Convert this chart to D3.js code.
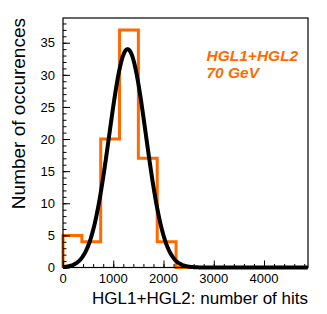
<!DOCTYPE html>
<html><head><meta charset="utf-8">
<script src="https://cdn.jsdelivr.net/npm/d3@7"></script>
<style>body{margin:0;background:#fff}svg{display:block}text{font-family:"Liberation Sans",Arial,sans-serif}</style>
</head><body>
<script>
// Histogram bins (lower edges) and counts
const binEdges = [0,375,750,1125,1500,1875,2250,2625,3000,3375,3750,4125,4500,4875];
const counts   = [5,4,20,37,17,4,0,0,0,0,0,0,0];
// Gaussian fit: [amplitude, mean, sigma]
const fitParams = [34, 1285, 365];
const xTicks = [0,1000,2000,3000,4000];
const yTicks = [0,5,10,15,20,25,30,35];
const xTitle = "HGL1+HGL2: number of hits";
const yTitle = "Number of occurences";
const labelLines = ["HGL1+HGL2","70 GeV"];

const W=327,H=314, m={l:63,t:18,r:19,b:46.5};
const svg=d3.select("body").append("svg").attr("width",W).attr("height",H);
const x=d3.scaleLinear().domain([0,4875]).range([m.l,W-m.r]);
const y=d3.scaleLinear().domain([0,38.85]).range([H-m.b,m.t]);
const orange="#ff6a00";

// histogram outline
const pts=[[binEdges[0],0]];
counts.forEach((c,i)=>{pts.push([binEdges[i],c]);pts.push([binEdges[i+1],c]);});
pts.push([binEdges[binEdges.length-1],0]);
svg.append("path").attr("d",d3.line().x(d=>x(d[0])).y(d=>y(d[1]))(pts))
  .attr("fill","none").attr("stroke",orange).attr("stroke-width",3);

// fit curve
const [A,mu,sg]=fitParams;
const fx=d3.range(0,4875.1,10);
svg.append("path").attr("d",d3.line().x(d=>x(d)).y(d=>y(A*Math.exp(-0.5*((d-mu)/sg)**2)))(fx))
  .attr("fill","none").attr("stroke","#000").attr("stroke-width",4).attr("stroke-linejoin","round");

// frame
svg.append("rect").attr("x",m.l).attr("y",m.t).attr("width",W-m.l-m.r).attr("height",H-m.t-m.b)
  .attr("fill","none").attr("stroke","#000").attr("stroke-width",1.2);

// y axis
const ya=svg.append("g").attr("transform",`translate(${m.l},0)`);
ya.call(d3.axisRight(y).tickValues(d3.range(0,39,1)).tickSize(3.5).tickFormat(""));
ya.call(g=>g.selectAll(".domain").remove());
const yb=svg.append("g").attr("transform",`translate(${m.l},0)`);
yb.call(d3.axisRight(y).tickValues(yTicks).tickSize(7).tickFormat(""));
yb.select(".domain").remove();
yTicks.forEach(t=>svg.append("text").attr("x",m.l-8).attr("y",y(t)).attr("dy","0.36em")
  .attr("text-anchor","end").attr("font-size",13).text(t));

// x axis
const xa=svg.append("g").attr("transform",`translate(0,${H-m.b})`);
xa.call(d3.axisTop(x).tickValues(d3.range(0,4875,200)).tickSize(3.5).tickFormat(""));
xa.select(".domain").remove();
const xb=svg.append("g").attr("transform",`translate(0,${H-m.b})`);
xb.call(d3.axisTop(x).tickValues(xTicks).tickSize(7).tickFormat(""));
xb.select(".domain").remove();
svg.selectAll(".tick line").attr("stroke","#000");
xTicks.forEach(t=>svg.append("text").attr("x",x(t)).attr("y",282.5)
  .attr("text-anchor","middle").attr("font-size",13).text(t));

// titles
svg.append("text").attr("x",W-m.r).attr("y",304).attr("text-anchor","end").attr("font-size",17).text(xTitle);
svg.append("text").attr("transform",`translate(25,${m.t}) rotate(-90)`).attr("text-anchor","end")
  .attr("font-size",19).text(yTitle);

// label
labelLines.forEach((s,i)=>svg.append("text").attr("x",206.5).attr("y",61+i*16.5)
  .attr("font-size",15.5).attr("font-weight","bold").attr("font-style","italic").attr("fill",orange).text(s));
</script>
</body></html>
